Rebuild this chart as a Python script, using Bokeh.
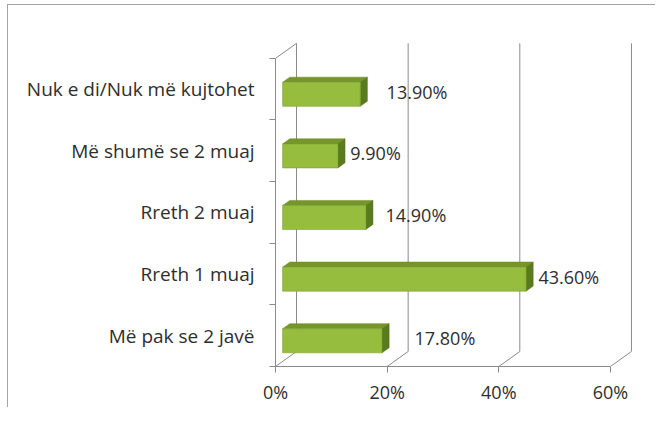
from bokeh.plotting import figure
from bokeh.models import Range1d, FixedTicker
from bokeh.core.properties import value
from bokeh.embed import file_html
from bokeh.resources import INLINE

# ---- data (bottom -> top) ----
categories = ["Më pak se 2 javë", "Rreth 1 muaj", "Rreth 2 muaj",
              "Më shumë se 2 muaj", "Nuk e di/Nuk më kujtohet"]
values = [17.8, 43.6, 14.9, 9.9, 13.9]
x_ticks = [0, 20, 40, 60]
x_tick_labels = ["0%", "20%", "40%", "60%"]
label_dx = [7.1, 3.5, 4.8, 3.5, 6.0]   # label nudges (style)

# ---- 3D geometry (style) ----
DX = 3.76      # depth offset in x units
DY = 0.2435    # depth offset in y units
F0 = 0.34      # bar front plane depth fraction
FD = 0.34      # bar depth fraction
BAR_H = 0.39
GRID = "#8a8a8a"
TEXT = "#2e2e2e"
FONT = "Open Sans"
BORDER = "#a3a3a3"

W, H = 655, 407
FL, FT, FB, FR = 275, 40, 41, 15
p = figure(width=W, height=H, output_backend="svg", toolbar_location=None,
           x_range=Range1d(0, 65.38), y_range=Range1d(0, 5.29),
           min_border_left=FL, min_border_right=FR, min_border_top=FT,
           min_border_bottom=FB)
p.outline_line_color = None
p.xgrid.visible = False
p.ygrid.visible = False
p.background_fill_alpha = 0
p.border_fill_alpha = 0
# chart-area border: left and top edges (the rest is outside the window)
p.styles = {
    "background": (f"linear-gradient({BORDER},{BORDER}) 7px 4px / 1px 100% no-repeat, "
                   f"linear-gradient({BORDER},{BORDER}) 7px 4px / 100% 1px no-repeat, "
                   "white")
}

n = len(categories)
xmax = x_ticks[-1]

# back wall gridlines + floor diagonals
xs, ys = [], []
for t in x_ticks:
    xs.append([t + DX, t + DX]); ys.append([DY, n + DY])
    xs.append([t, t + DX]); ys.append([0, DY])
xs.append([0, DX]); ys.append([n, n + DY])
p.multi_line(xs, ys, line_color=GRID, line_width=1)

# bars
fx, fy, tx, ty, sx, sy = [], [], [], [], [], []
for i, v in enumerate(values):
    c = i + 0.5
    x0 = F0 * DX
    x1 = v + F0 * DX
    yb = c - F0 * DY - BAR_H / 2
    yt = c - F0 * DY + BAR_H / 2
    ddx, ddy = FD * DX, FD * DY
    fx.append([x0, x1, x1, x0]); fy.append([yb, yb, yt, yt])
    tx.append([x0, x1, x1 + ddx, x0 + ddx]); ty.append([yt, yt, yt + ddy, yt + ddy])
    sx.append([x1, x1 + ddx, x1 + ddx, x1]); sy.append([yb, yb + ddy, yt + ddy, yt])
p.patches(tx, ty, fill_color="#76962b", line_color="#6a8a25", line_width=0.5)
p.patches(sx, sy, fill_color="#5a7a1e", line_color="#54721b", line_width=0.5)
p.patches(fx, fy, fill_color="#96bd3d", line_color="#7e9f2f", line_width=0.6)

# data labels
lx = [v + d for v, d in zip(values, label_dx)]
ly = [i + 0.5 - 0.04 for i in range(n)]
lt = [f"{v:.2f}%" for v in values]
p.text(lx, ly, text=lt, text_font=value(FONT), text_font_size="18px",
       text_color=TEXT, text_baseline="middle", text_align="left")

# x axis
xa = p.xaxis[0]
xa.ticker = FixedTicker(ticks=x_ticks)
xa.major_label_overrides = {t: l for t, l in zip(x_ticks, x_tick_labels)}
xa.bounds = (0, xmax)
xa.axis_line_color = GRID
xa.major_tick_line_color = GRID
xa.major_tick_out = 6
xa.major_tick_in = 0
xa.minor_tick_line_color = None
xa.major_label_text_font = FONT
xa.major_label_text_font_size = "18px"
xa.major_label_text_color = TEXT
xa.major_label_standoff = 7

# y axis
ya = p.yaxis[0]
ya.ticker = FixedTicker(ticks=[i + 0.5 for i in range(n)],
                        minor_ticks=list(range(n + 1)))
ya.major_label_overrides = {i + 0.5: c for i, c in enumerate(categories)}
ya.bounds = (0, n)
ya.axis_line_color = GRID
ya.major_tick_out = 0
ya.major_tick_in = 0
ya.minor_tick_out = 6
ya.minor_tick_in = 0
ya.minor_tick_line_color = GRID
ya.major_label_text_font = FONT
ya.major_label_text_font_size = "19px"
ya.major_label_text_color = TEXT
ya.major_label_standoff = 15

open("out.html", "w").write(file_html(p, INLINE))
